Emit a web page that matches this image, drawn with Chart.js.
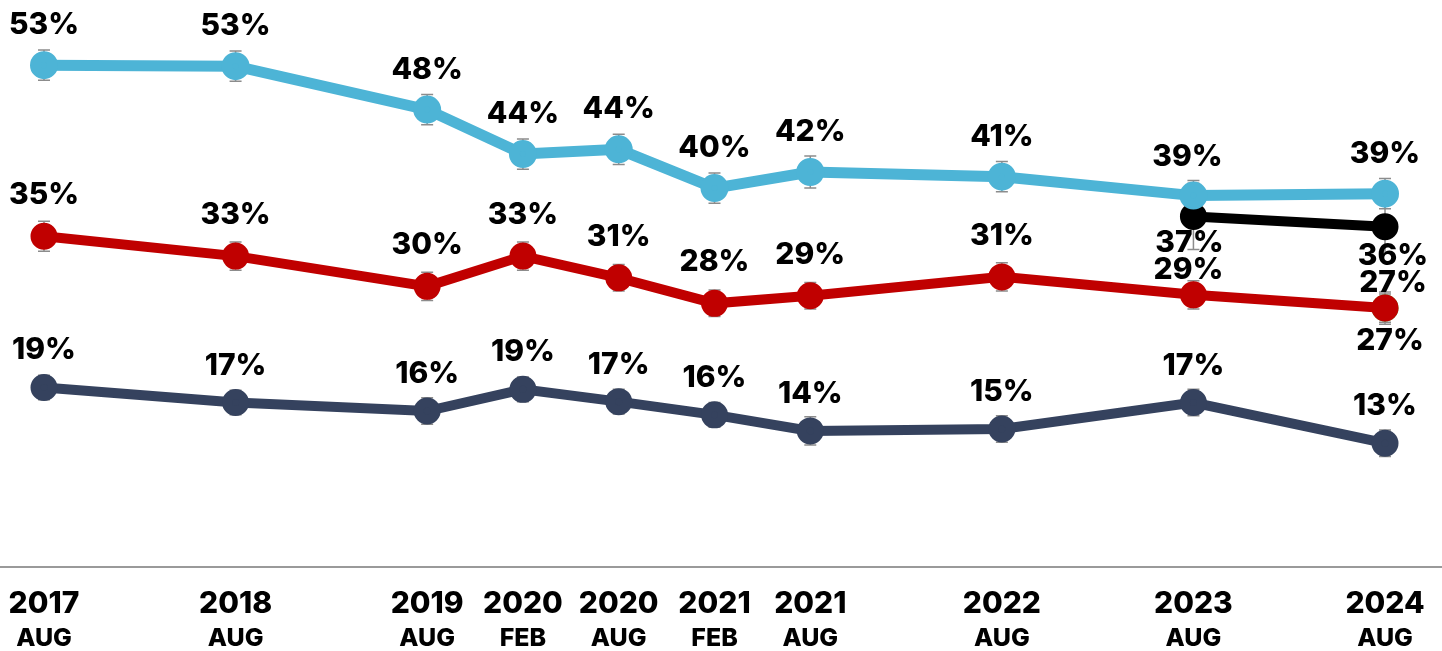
<!DOCTYPE html>
<html>
<head>
<meta charset="utf-8">
<script src="https://cdn.jsdelivr.net/npm/chart.js@4.4.1/dist/chart.umd.min.js"></script>
<style>
  html, body { margin: 0; padding: 0; background: #fff; }
  #wrap { width: 1442px; height: 651px; position: relative; }
</style>
</head>
<body>
<div id="wrap"><canvas id="trendChart"></canvas></div>
<script>
// months since Aug 2017
const surveyMonths = [0, 12, 24, 30, 36, 42, 48, 60, 72, 84];
const yearLabels = ["2017", "2018", "2019", "2020", "2020", "2021", "2021", "2022", "2023", "2024"];
const monthLabels = ["AUG", "AUG", "AUG", "FEB", "AUG", "FEB", "AUG", "AUG", "AUG", "AUG"];

const blueValues = [53.1, 53.0, 48.4, 43.7, 44.2, 40.1, 41.8, 41.3, 39.3, 39.5];
const blueLabels = ["53%", "53%", "48%", "44%", "44%", "40%", "42%", "41%", "39%", "39%"];
const blueErrors = [1.6, 1.6, 1.6, 1.6, 1.6, 1.6, 1.7, 1.6, 1.6, 1.6];

const redValues = [35.0, 32.9, 29.7, 32.9, 30.6, 27.9, 28.7, 30.7, 28.8, 27.4];
const redLabels = ["35%", "33%", "30%", "33%", "31%", "28%", "29%", "31%", "29%", "27%"];
const redErrors = [1.6, 1.5, 1.5, 1.5, 1.4, 1.4, 1.4, 1.5, 1.5, 1.5];

const navyValues = [19.0, 17.4, 16.5, 18.8, 17.5, 16.1, 14.4, 14.6, 17.4, 13.1];
const navyLabels = ["19%", "17%", "16%", "19%", "17%", "16%", "14%", "15%", "17%", "13%"];
const navyErrors = [1.3, 1.3, 1.4, 1.3, 1.3, 1.3, 1.5, 1.4, 1.4, 1.4];

const blackMonths = [72, 84];
const blackValues = [37.1, 36.0];
const blackLabels = ["37%", "36%"];
const blackErrors = [3.5, 2.8];

const greenMonths = [84];
const greenValues = [27.4];
const greenLabels = ["27%"];
const greenErrors = [1.7];

const toPoints = (xs, ys) => xs.map((x, i) => ({ x: x, y: ys[i] }));

// per dataset: labels, errors, label placement (px) - default and per-point overrides
const extras = [
  { labels: blueLabels, errors: blueErrors, dy: -40, dx: 0, tweak: { 8: [-6, -39] } },
  { labels: redLabels, errors: redErrors, dy: -41, dx: 0, tweak: { 8: [-5, -25], 9: [8, -25] } },
  { labels: navyLabels, errors: navyErrors, dy: -37, dx: 0, tweak: {} },
  { labels: blackLabels, errors: blackErrors, dy: 28, dx: 0, tweak: { 0: [-4, 27], 1: [8, 29] } },
  { labels: greenLabels, errors: greenErrors, dy: 33, dx: 5, tweak: {} },
];

const FONT = "Inter, 'Open Sans', sans-serif";

const decorations = {
  id: "decorations",
  beforeDatasetsDraw(chart) {
    const ctx = chart.ctx;
    const yScale = chart.scales.y;
    ctx.save();
    ctx.strokeStyle = "#8c8c8c";
    ctx.lineWidth = 1.5;
    chart.data.datasets.forEach((ds, di) => {
      const meta = chart.getDatasetMeta(di);
      meta.data.forEach((pt, i) => {
        const v = ds.data[i].y;
        const err = extras[di].errors[i];
        const top = yScale.getPixelForValue(v + err);
        const bot = yScale.getPixelForValue(v - err);
        ctx.beginPath();
        ctx.moveTo(pt.x, top);
        ctx.lineTo(pt.x, bot);
        ctx.moveTo(pt.x - 6, top);
        ctx.lineTo(pt.x + 6, top);
        ctx.moveTo(pt.x - 6, bot);
        ctx.lineTo(pt.x + 6, bot);
        ctx.stroke();
      });
    });
    ctx.restore();
  },
  afterDatasetsDraw(chart) {
    const ctx = chart.ctx;
    const area = chart.chartArea;
    const xScale = chart.scales.x;
    ctx.save();
    // value labels
    ctx.fillStyle = "#000";
    ctx.textAlign = "center";
    ctx.textBaseline = "middle";
    ctx.font = "800 30px " + FONT;
    chart.data.datasets.forEach((ds, di) => {
      const ex = extras[di];
      const meta = chart.getDatasetMeta(di);
      meta.data.forEach((pt, i) => {
        const [dx, dy] = ex.tweak[i] || [ex.dx, ex.dy];
        ctx.fillText(ex.labels[i], pt.x + dx, pt.y + dy);
      });
    });
    // axis line
    ctx.strokeStyle = "#9a9a9a";
    ctx.lineWidth = 2;
    ctx.beginPath();
    ctx.moveTo(0, area.bottom);
    ctx.lineTo(chart.width, area.bottom);
    ctx.stroke();
    // two-line tick labels
    surveyMonths.forEach((m, i) => {
      const x = xScale.getPixelForValue(m);
      ctx.font = "800 30px " + FONT;
      ctx.fillText(yearLabels[i], x, 604);
      ctx.font = "800 25px " + FONT;
      ctx.fillText(monthLabels[i], x, 638);
    });
    ctx.restore();
  },
};

const lineStyle = (color, width) => ({
  borderColor: color,
  backgroundColor: color,
  pointBackgroundColor: color,
  pointBorderColor: color,
  borderWidth: width,
  pointRadius: 8.5,
  pointHoverRadius: 8.5,
  tension: 0,
  clip: false,
});

new Chart(document.getElementById("trendChart"), {
  type: "line",
  data: {
    datasets: [
      { label: "blue", data: toPoints(surveyMonths, blueValues), ...lineStyle("#4db4d6", 11) },
      { label: "red", data: toPoints(surveyMonths, redValues), ...lineStyle("#c00000", 10) },
      { label: "navy", data: toPoints(surveyMonths, navyValues), ...lineStyle("#35425e", 10) },
      { label: "black", data: toPoints(blackMonths, blackValues), ...lineStyle("#000000", 10) },
      { label: "green", data: toPoints(greenMonths, greenValues), ...lineStyle("#4ea72e", 10) },
    ],
  },
  options: {
    responsive: true,
    maintainAspectRatio: false,
    animation: false,
    layout: { autoPadding: false, padding: { top: 0, bottom: 84, left: 0, right: 0 } },
    plugins: {
      legend: { display: false },
      tooltip: { enabled: false },
    },
    scales: {
      x: { type: "linear", min: -2.756, max: 87.57, display: false },
      y: { min: 0, max: 60, display: false },
    },
  },
  plugins: [decorations],
});
</script>
</body>
</html>
